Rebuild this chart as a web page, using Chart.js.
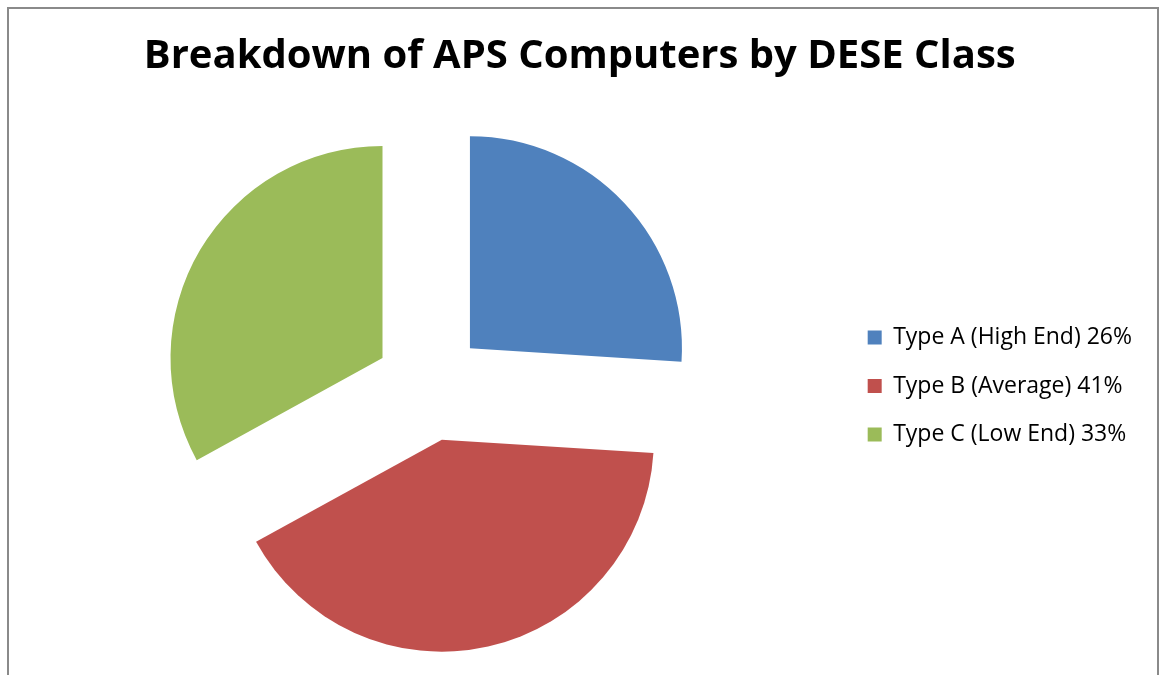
<!DOCTYPE html>
<html>
<head>
<meta charset="utf-8">
<script src="https://cdn.jsdelivr.net/npm/chart.js@4.4.1/dist/chart.umd.min.js"></script>
<style>
  body { margin: 0; background: #fff; }
  #wrap { position: absolute; left: 0; top: 0; width: 1161px; height: 675px; }
  #frame {
    position: absolute; left: 7px; top: 7px; width: 1148px; height: 700px;
    border: 2px solid #8a8a8a; border-bottom: none; pointer-events: none;
  }
</style>
</head>
<body>
<div id="wrap"><canvas id="myChart"></canvas></div>
<div id="frame"></div>
<script>
// chart data
const categories = ['Type A (High End)', 'Type B (Average)', 'Type C (Low End)'];
const shares = [26, 41, 33];
const colors = ['#4F81BD', '#C0504D', '#9BBB59'];

// how far each slice is pulled out of the pie (px)
const EXPLODE = 55;

// move every arc out along its middle angle, keeping the full radius
const explodePlugin = {
  id: 'explode',
  afterDatasetsUpdate(chart) {
    chart.getDatasetMeta(0).data.forEach(arc => {
      const mid = (arc.startAngle + arc.endAngle) / 2;
      arc.x += Math.cos(mid) * EXPLODE;
      arc.y += Math.sin(mid) * EXPLODE;
    });
  }
};

let ctx = document.getElementById('myChart');
new Chart(ctx, {
  type: 'pie',
  data: {
    labels: categories,
    datasets: [{
      data: shares,
      backgroundColor: colors,
      borderWidth: 0,
      radius: 212
    }]
  },
  plugins: [explodePlugin],
  options: {
    responsive: true,
    maintainAspectRatio: false,
    animation: false,
    layout: {
      padding: {left: 17.5, right: 19, top: 0, bottom: 0}
    },
    plugins: {
      title: {
        display: true,
        text: 'Breakdown of APS Computers by DESE Class',
        color: '#000',
        padding: {top: 33, bottom: 16},
        font: {family: 'Open Sans', size: 40, weight: 'bold'}
      },
      legend: {
        position: 'right',
        fullSize: false,
        labels: {
          color: '#000',
          boxWidth: 14,
          boxHeight: 14,
          padding: 25.5,
          font: {family: 'Open Sans', size: 23},
          generateLabels: (chart) => categories.map((c, i) => ({
            text: c + ' ' + shares[i] + '%',
            fillStyle: colors[i],
            strokeStyle: colors[i],
            lineWidth: 0,
            index: i
          }))
        }
      },
      tooltip: {enabled: false}
    }
  }
});
</script>
</body>
</html>
